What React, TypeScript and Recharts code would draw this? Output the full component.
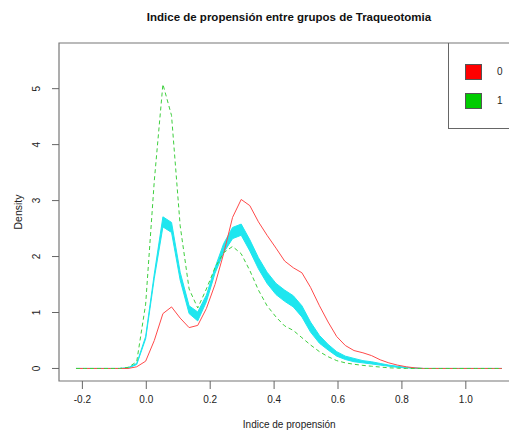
import React from 'react';
import {
  ComposedChart,
  Area,
  Line,
  XAxis,
  YAxis,
  ReferenceArea,
} from 'recharts';

// evaluation grid of the density estimates
const grid = [
  -0.22, -0.193, -0.166, -0.138, -0.111, -0.084, -0.057, -0.03, -0.002, 0.025,
  0.052, 0.079, 0.106, 0.134, 0.161, 0.188, 0.215, 0.242, 0.27, 0.297,
  0.324, 0.351, 0.378, 0.406, 0.433, 0.46, 0.487, 0.514, 0.542, 0.569,
  0.596, 0.623, 0.65, 0.678, 0.705, 0.732, 0.759, 0.786, 0.814, 0.841,
  0.868, 0.895, 0.922, 0.95, 0.977, 1.004, 1.031, 1.058, 1.086, 1.113,
];

// group 0 (red, solid)
const group0 = [
  0, 0, 0, 0, 0, 0, 0, 0.03, 0.13, 0.5,
  0.98, 1.1, 0.9, 0.73, 0.77, 1.07, 1.5, 2.05, 2.7, 3.02,
  2.91, 2.62, 2.38, 2.15, 1.92, 1.8, 1.71, 1.45, 1.12, 0.83,
  0.57, 0.41, 0.32, 0.28, 0.23, 0.155, 0.1, 0.06, 0.03, 0.01,
  0, 0, 0, 0, 0, 0, 0, 0, 0, 0,
];

// group 1 (green, dashed)
const group1 = [
  0, 0, 0, 0, 0, 0, 0.02, 0.12, 1.15, 3.35,
  5.08, 4.52, 2.55, 1.42, 1.08, 1.42, 1.8, 2.07, 2.18, 2.05,
  1.75, 1.4, 1.12, 0.92, 0.76, 0.68, 0.55, 0.42, 0.3, 0.21,
  0.14, 0.1, 0.075, 0.055, 0.04, 0.025, 0.012, 0.005, 0, 0,
  0, 0, 0, 0, 0, 0, 0, 0, 0, 0,
];

// reference band (cyan), lower and upper edges
const bandLow = [
  0, 0, 0, 0, 0, 0, 0.005, 0.07, 0.53, 1.61,
  2.53, 2.43, 1.58, 0.98, 0.85, 1.19, 1.7, 2.07, 2.32, 2.38,
  2.1, 1.78, 1.52, 1.32, 1.2, 1.1, 0.92, 0.65, 0.45, 0.33,
  0.22, 0.16, 0.12, 0.1, 0.08, 0.06, 0.04, 0.02, 0.01, 0.002,
  0, 0, 0, 0, 0, 0, 0, 0, 0, 0,
];
const bandHigh = [
  0, 0, 0, 0, 0, 0, 0.015, 0.09, 0.57, 1.69,
  2.71, 2.61, 1.72, 1.12, 1.01, 1.31, 1.8, 2.23, 2.52, 2.58,
  2.3, 1.98, 1.72, 1.52, 1.4, 1.3, 1.12, 0.83, 0.59, 0.43,
  0.3, 0.22, 0.18, 0.14, 0.12, 0.09, 0.06, 0.04, 0.02, 0.008,
  0, 0, 0, 0, 0, 0, 0, 0, 0, 0,
];

const xTicks = [-0.2, 0, 0.2, 0.4, 0.6, 0.8, 1.0];
const yTicks = [0, 1, 2, 3, 4, 5];
const legendItems = [
  { label: '0', color: '#ff0000' },
  { label: '1', color: '#00cc00' },
];

const data = grid.map((x, i) => ({
  x,
  g0: group0[i],
  g1: group1[i],
  band: [bandLow[i], bandHigh[i]],
}));

const FONT = '"Liberation Sans", Arial, sans-serif';
const X_DOMAIN: [number, number] = [-0.2732, 1.168];
const Y_DOMAIN: [number, number] = [-0.224, 5.816];

const YTick = (props: any) => {
  const { x, y, payload } = props;
  return (
    <text
      x={x - 10}
      y={y}
      transform={`rotate(-90, ${x - 10}, ${y})`}
      textAnchor="middle"
      fontSize={10}
      fontFamily={FONT}
      fill="#222"
    >
      {payload.value}
    </text>
  );
};

export default function App() {
  return (
    <div
      style={{
        position: 'absolute',
        left: 0,
        top: 0,
        width: 509,
        height: 431,
        overflow: 'hidden',
        background: '#fff',
        fontFamily: FONT,
      }}
    >
      {/* title */}
      <div
        style={{
          position: 'absolute',
          left: 0,
          top: 11,
          width: 578,
          textAlign: 'center',
          fontSize: 11.5,
          fontWeight: 'bold',
          color: '#111',
        }}
      >
        Indice de propensión entre grupos de Traqueotomia
      </div>

      <ComposedChart
        width={540}
        height={431}
        data={data}
        margin={{ top: 43, right: 20.5, bottom: 0, left: 0 }}
      >
        <XAxis
          dataKey="x"
          type="number"
          domain={X_DOMAIN}
          allowDataOverflow
          ticks={xTicks}
          interval={0}
          tickFormatter={(v: number) => v.toFixed(1)}
          height={50}
          tickSize={8}
          tickMargin={7}
          axisLine={false}
          tickLine={{ stroke: '#666' }}
          tick={{ fontSize: 10, fill: '#222', fontFamily: FONT }}
          label={{
            value: 'Indice de propensión',
            position: 'insideBottom',
            offset: 3,
            fontSize: 10,
            fill: '#222',
            fontFamily: FONT,
          }}
        />
        <YAxis
          type="number"
          domain={Y_DOMAIN}
          allowDataOverflow
          ticks={yTicks}
          interval={0}
          width={59}
          tickSize={7}
          axisLine={false}
          tickLine={{ stroke: '#666' }}
          tick={<YTick />}
          label={{
            value: 'Density',
            angle: -90,
            position: 'insideLeft',
            offset: 18,
            fontSize: 10.5,
            fill: '#222',
            fontFamily: FONT,
            style: { textAnchor: 'middle' },
          }}
        />
        <ReferenceArea
          x1={X_DOMAIN[0]}
          x2={X_DOMAIN[1]}
          y1={Y_DOMAIN[0]}
          y2={Y_DOMAIN[1]}
          fill="none"
          stroke="#777"
          strokeWidth={1.2}
        />
        <Area
          dataKey="band"
          type="linear"
          stroke="#1ee6ef"
          strokeWidth={1}
          fill="#1ee6ef"
          fillOpacity={1}
          isAnimationActive={false}
        />
        <Line
          dataKey="g0"
          type="linear"
          stroke="#ff4a4a"
          strokeWidth={1}
          dot={false}
          isAnimationActive={false}
        />
        <Line
          dataKey="g1"
          type="linear"
          stroke="#3ecf3e"
          strokeWidth={1}
          strokeDasharray="4 3"
          dot={false}
          isAnimationActive={false}
        />
      </ComposedChart>

      {/* legend */}
      <div
        style={{
          position: 'absolute',
          left: 448,
          top: 43,
          width: 80,
          height: 86,
          borderLeft: '1px solid #666',
          borderBottom: '1px solid #666',
          boxSizing: 'border-box',
        }}
      >
        {legendItems.map((item, i) => (
          <div key={item.label}>
            <div
              style={{
                position: 'absolute',
                left: 16,
                top: 21 + i * 29,
                width: 15,
                height: 14,
                background: item.color,
                border: '1px solid #555',
              }}
            />
            <div
              style={{
                position: 'absolute',
                left: 48,
                top: 21 + i * 29,
                fontSize: 10,
                lineHeight: '15px',
                color: '#222',
              }}
            >
              {item.label}
            </div>
          </div>
        ))}
      </div>
    </div>
  );
}
